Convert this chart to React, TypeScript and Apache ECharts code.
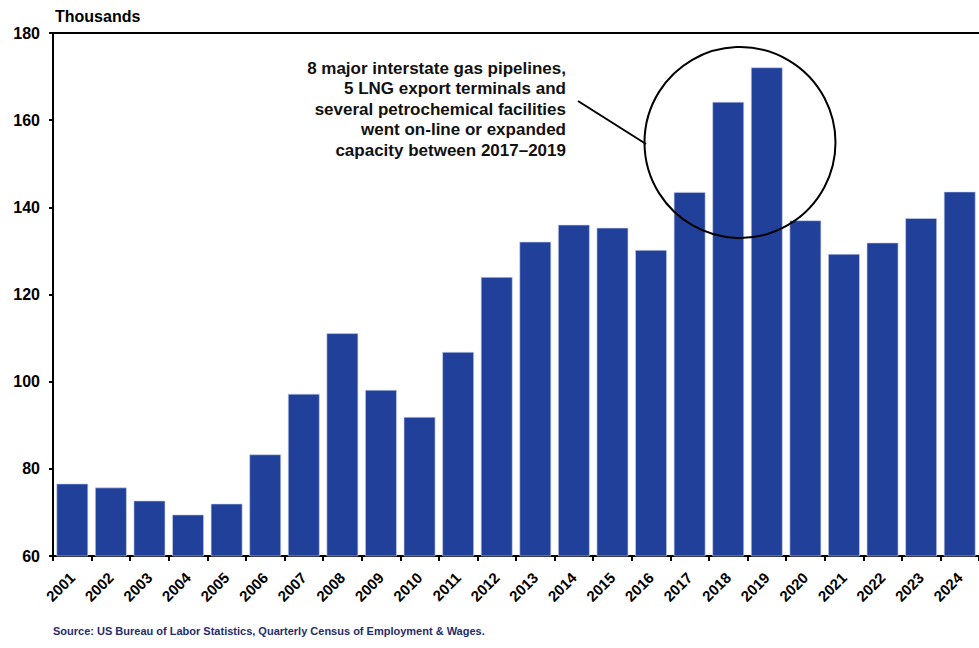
import React, { useEffect, useRef } from "react";
import * as echarts from "echarts";

// Oil & gas related employment, thousands
const years = [
  "2001", "2002", "2003", "2004", "2005", "2006", "2007", "2008",
  "2009", "2010", "2011", "2012", "2013", "2014", "2015", "2016",
  "2017", "2018", "2019", "2020", "2021", "2022", "2023", "2024",
];
const employment = [
  76.6, 75.7, 72.7, 69.5, 72.0, 83.3, 97.2, 111.1,
  98.1, 91.9, 106.8, 124.0, 132.1, 136.0, 135.3, 130.2,
  143.5, 164.2, 172.1, 137.0, 129.3, 131.9, 137.5, 143.6,
];
const yTicks = { min: 60, max: 180, interval: 20 };

const unitLabel = "Thousands";
const sourceNote =
  "Source: US Bureau of Labor Statistics, Quarterly Census of Employment & Wages.";
const calloutLines = [
  "8 major interstate gas pipelines,",
  "5 LNG export terminals and",
  "several petrochemical facilities",
  "went on-line or expanded",
  "capacity between 2017\u20132019",
];

const FONT = "'Liberation Sans', Arial, sans-serif";
const BAR = "#21409A";

export default function App() {
  const ref = useRef<HTMLDivElement>(null);

  useEffect(() => {
    if (!ref.current) return;
    const chart = echarts.init(ref.current, null, { renderer: "svg" });
    chart.setOption({
      animation: false,
      backgroundColor: "#ffffff",
      grid: { left: 53, top: 33, right: -10, bottom: 92, containLabel: false },
      xAxis: [
        {
          type: "category",
          data: years,
          boundaryGap: true,
          axisLine: { show: true, lineStyle: { color: "#000", width: 2 } },
          axisTick: { show: true, length: 5, lineStyle: { color: "#000", width: 2 } },
          axisLabel: {
            rotate: 45,
            margin: 19,
            interval: 0,
            color: "#000",
            fontFamily: FONT,
            fontWeight: "bold",
            fontSize: 15,
          },
          splitLine: { show: false },
        },
        {
          type: "category",
          data: years,
          position: "top",
          axisLine: { show: true, lineStyle: { color: "#000", width: 2 } },
          axisTick: { show: false },
          axisLabel: { show: false },
        },
      ],
      yAxis: {
        type: "value",
        min: yTicks.min,
        max: yTicks.max,
        interval: yTicks.interval,
        axisLine: { show: true, lineStyle: { color: "#000", width: 2 } },
        axisTick: { show: true, length: 4, lineStyle: { color: "#000", width: 2 } },
        axisLabel: {
          margin: 13,
          color: "#000",
          fontFamily: FONT,
          fontWeight: "bold",
          fontSize: 16,
        },
        splitLine: { show: false },
      },
      series: [
        {
          type: "bar",
          data: employment,
          barCategoryGap: "18%",
          itemStyle: { color: BAR, borderColor: "#c9d1ec", borderWidth: 0.6 },
        },
      ],
      graphic: [
        {
          type: "text",
          left: 55,
          top: 8,
          z: 100,
          style: {
            text: unitLabel,
            fontFamily: FONT,
            fontWeight: "bold",
            fontSize: 16,
            fill: "#000",
          },
        },
        {
          type: "text",
          x: 566,
          y: 58,
          z: 100,
          style: {
            text: calloutLines.join("\n"),
            align: "right",
            verticalAlign: "top",
            lineHeight: 20.5,
            fontFamily: FONT,
            fontWeight: "bold",
            fontSize: 17,
            fill: "#111",
          },
        },
        {
          type: "line",
          z: 100,
          shape: { x1: 578, y1: 101, x2: 646, y2: 144 },
          style: { stroke: "#000", lineWidth: 2 },
        },
        {
          type: "circle",
          z: 100,
          shape: { cx: 740, cy: 142.5, r: 95.5 },
          style: { fill: "none", stroke: "#000", lineWidth: 2 },
        },
        {
          type: "text",
          x: 53,
          y: 631,
          z: 100,
          style: {
            text: sourceNote,
            verticalAlign: "middle",
            fontFamily: FONT,
            fontWeight: "bold",
            fontSize: 11,
            fill: "#1f2d6e",
          },
        },
      ],
    });
    return () => chart.dispose();
  }, []);

  return (
    <div
      ref={ref}
      style={{ position: "fixed", left: 0, top: 0, width: 979, height: 648 }}
    />
  );
}
